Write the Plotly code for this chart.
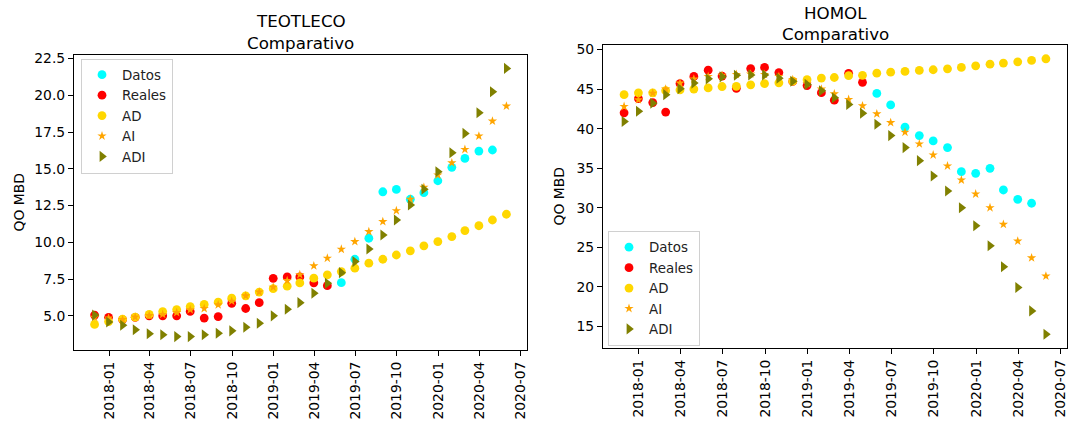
import pandas as pd
import plotly.graph_objects as go

# ---------------- data ----------------
dates = pd.date_range("2017-11-01", periods=31, freq="MS") + pd.offsets.MonthEnd(0)
n_real = 18
n_datos = 12

teo_reales = [5.05, 4.9, 4.75, 4.9, 5.0, 5.0, 5.0, 5.3, 4.85, 4.95, 5.85, 5.5, 5.9,
              7.55, 7.65, 7.65, 7.25, 7.05]
teo_datos = [7.26, 8.85, 10.28, 13.44, 13.6, 12.93, 13.38, 14.19, 15.1, 15.71, 16.21, 16.28]
teo_ad = [4.42, 4.61, 4.77, 4.91, 5.1, 5.29, 5.43, 5.63, 5.78, 5.93, 6.2, 6.36, 6.62, 6.85,
          7.02, 7.24, 7.56, 7.79, 8.01, 8.24, 8.58, 8.85, 9.14, 9.42, 9.76, 10.05, 10.39,
          10.8, 11.13, 11.52, 11.91]
teo_ai = [4.9, 4.85, 4.75, 4.92, 5.02, 5.1, 5.22, 5.42, 5.5, 5.75, 6.0, 6.36, 6.62, 6.95,
          7.4, 7.8, 8.4, 8.92, 9.53, 10.05, 10.73, 11.41, 12.15, 12.93, 13.74, 14.58,
          15.41, 16.32, 17.23, 18.25, 19.27]
teo_adi = [5.05, 4.58, 4.36, 4.05, 3.78, 3.71, 3.59, 3.59, 3.71, 3.82, 3.98, 4.23, 4.5,
           5.0, 5.45, 5.9, 6.54, 7.22, 7.94, 8.69, 9.55, 10.5, 11.52, 12.54, 13.61, 14.8,
           16.09, 17.41, 18.81, 20.24, 21.83]

hom_reales = [42.0, 43.8, 43.3, 42.1, 45.7, 46.6, 47.4, 46.65, 45.1, 47.6, 47.75, 47.1,
              45.97, 45.45, 44.55, 43.6, 47.0, 45.86]
hom_datos = [44.45, 43.0, 40.18, 39.12, 38.45, 37.6, 34.56, 34.35, 34.98, 32.24, 31.06, 30.56]
hom_ad = [44.3, 44.53, 44.53, 44.8, 44.9, 45.0, 45.15, 45.33, 45.35, 45.54, 45.7, 45.8,
          46.0, 46.2, 46.4, 46.47, 46.7, 46.75, 47.02, 47.15, 47.24, 47.36, 47.45, 47.57,
          47.74, 47.95, 48.16, 48.29, 48.46, 48.63, 48.84]
hom_ai = [42.8, 43.64, 44.49, 45.0, 45.76, 46.27, 46.6, 46.75, 46.85, 46.9, 46.85, 46.6,
          46.2, 45.7, 45.0, 44.4, 43.7, 42.88, 41.87, 40.77, 39.55, 38.07, 36.67, 35.28,
          33.5, 31.73, 30.0, 27.89, 25.77, 23.66, 21.34]
hom_adi = [40.9, 42.2, 43.22, 44.3, 45.05, 45.76, 46.3, 46.55, 46.75, 46.8, 46.8, 46.39,
           46.0, 45.6, 44.8, 43.9, 43.05, 41.95, 40.56, 39.12, 37.6, 35.95, 34.01, 32.11,
           30.0, 27.71, 25.18, 22.52, 19.9, 16.94, 13.99]

tick_dates = pd.date_range("2018-01-01", "2020-07-01", freq="3MS")
tick_labels = [d.strftime("%Y-%m") for d in tick_dates]

# ---------------- styling ----------------
FONT = "DejaVu Sans"
W, H = 1070, 421
series_style = [
    ("Datos", "#00ffff", "circle", 8.8),
    ("Reales", "#ff0000", "circle", 8.8),
    ("AD", "#ffd700", "circle", 8.8),
    ("AI", "#ffa500", "star", 7.0),
    ("ADI", "#808000", "triangle-right", 9.6),
]

fig = go.Figure()


def add_panel(datos, reales, ad, ai, adi, xa, ya, legend):
    xs = [dates[n_real:n_real + n_datos], dates[:n_real], dates, dates, dates]
    ys = [datos, reales, ad, ai, adi]
    for (name, color, sym, size), x, y in zip(series_style, xs, ys):
        fig.add_trace(go.Scatter(
            x=list(x), y=y, mode="markers", name=name,
            marker=dict(color=color, symbol=sym, size=size, line=dict(width=0)),
            xaxis=xa, yaxis=ya, legend=legend))


add_panel(teo_datos, teo_reales, teo_ad, teo_ai, teo_adi, "x", "y", "legend")
add_panel(hom_datos, hom_reales, hom_ad, hom_ai, hom_adi, "x2", "y2", "legend2")


def yrange(*arrs):
    vals = [v for a in arrs for v in a]
    lo, hi = min(vals), max(vals)
    m = (hi - lo) * 0.05
    return [lo - m, hi + m]


span = dates[-1] - dates[0]
xr = [dates[0] - span * 0.05, dates[-1] + span * 0.05]

axis_common = dict(showline=True, mirror=True, linecolor="black", linewidth=1,
                   ticks="outside", ticklen=5, tickwidth=1, tickcolor="black",
                   showgrid=False, zeroline=False, automargin=False,
                   tickfont=dict(family=FONT, size=13.9, color="black"))

xaxis_common = dict(axis_common, type="date", range=xr, tickvals=list(tick_dates),
                    ticktext=tick_labels, tickangle=-90)


def px_x(p):
    return p / W


def px_y(p):
    return (H - p) / H


legend_common = dict(xanchor="left", yanchor="top",
                     bgcolor="rgba(255,255,255,0.8)", bordercolor="#d0d0d0", borderwidth=1,
                     font=dict(family=FONT, size=13.4, color="#222"), tracegroupgap=0)

fig.update_layout(
    width=W, height=H,
    margin=dict(l=0, r=0, t=0, b=0),
    paper_bgcolor="white", plot_bgcolor="white",
    font=dict(family=FONT, size=13.9, color="black"),
    xaxis=dict(xaxis_common, domain=[px_x(74), px_x(527)], anchor="y"),
    yaxis=dict(axis_common, domain=[px_y(350), px_y(55)], anchor="x",
               range=yrange(teo_datos, teo_reales, teo_ad, teo_ai, teo_adi),
               dtick=2.5, tick0=0, tickformat=".1f"),
    xaxis2=dict(xaxis_common, domain=[px_x(603), px_x(1067)], anchor="y2"),
    yaxis2=dict(axis_common, domain=[px_y(348), px_y(45)], anchor="x2",
                range=yrange(hom_datos, hom_reales, hom_ad, hom_ai, hom_adi),
                dtick=5, tick0=0),
    legend=dict(legend_common, x=px_x(81), y=px_y(58.5)),
    legend2=dict(legend_common, x=px_x(608), y=px_y(231)),
    showlegend=True,
)

ann = []
title_font = dict(family=FONT, size=16.7, color="black")
for txt, cx, cy in [("TEOTLECO", 300.5, 21.5), ("Comparativo", 300.5, 42.5),
                    ("HOMOL", 835, 13), ("Comparativo", 835, 33.5)]:
    ann.append(dict(text=txt, x=px_x(cx), y=px_y(cy), xref="paper", yref="paper",
                    xanchor="center", yanchor="middle", showarrow=False, font=title_font))
for cx, cy in [(18, 202.5), (558, 196.5)]:
    ann.append(dict(text="QO MBD", x=px_x(cx), y=px_y(cy), xref="paper", yref="paper",
                    xanchor="center", yanchor="middle", showarrow=False, textangle=-90,
                    font=dict(family=FONT, size=13.9, color="black")))
fig.update_layout(annotations=ann)

fig.write_html("out.html",
               config={"displayModeBar": False},
               post_script="document.body.style.margin='0';"
                           "document.body.style.overflow='hidden';")
